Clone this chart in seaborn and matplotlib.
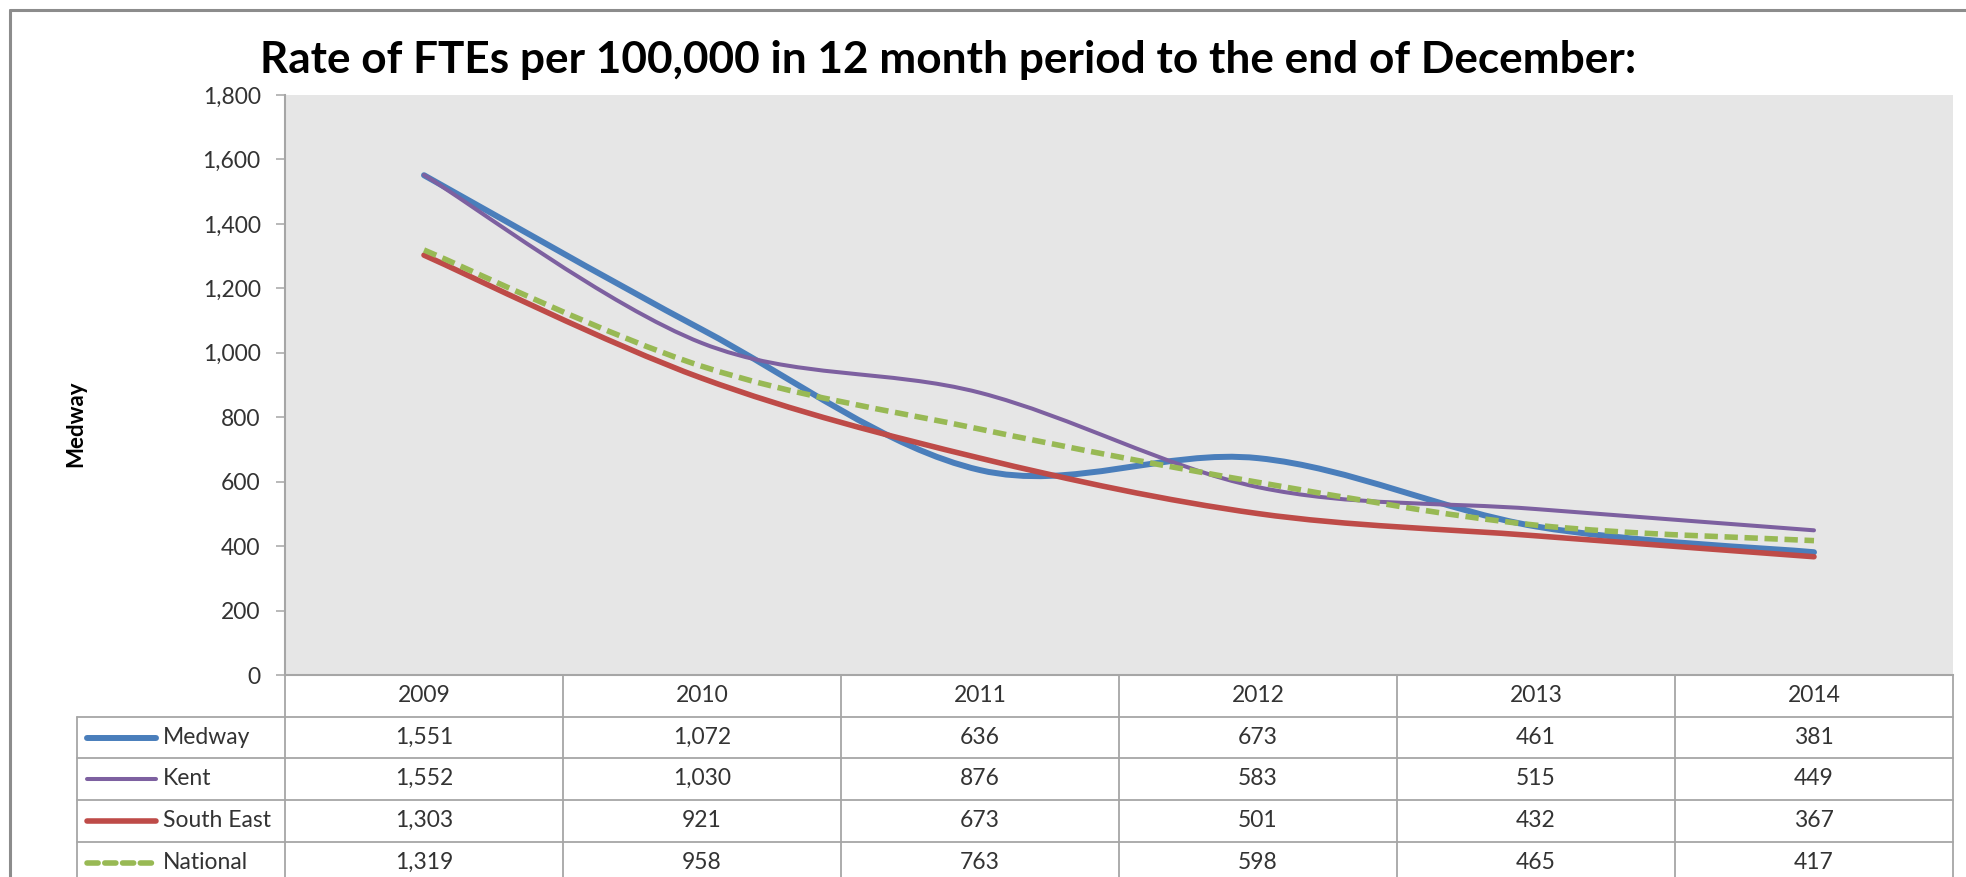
import numpy as np
import pandas as pd
import matplotlib
matplotlib.use("Agg")
import matplotlib.pyplot as plt
import seaborn as sns
from matplotlib.path import Path
from matplotlib.patches import PathPatch
from matplotlib.lines import Line2D

# ---------------- data ----------------
years = ["2009", "2010", "2011", "2012", "2013", "2014"]
series_names = ["Medway", "Kent", "South East", "National"]
medway = [1551, 1072, 636, 673, 461, 381]
kent = [1552, 1030, 876, 583, 515, 449]
south_east = [1303, 921, 673, 501, 432, 367]
national = [1319, 958, 763, 598, 465, 417]
y_ticks = [0, 200, 400, 600, 800, 1000, 1200, 1400, 1600, 1800]
title = "Rate of FTEs per 100,000 in 12 month period to the end of December:"
y_label = "Medway"

series_values = [medway, kent, south_east, national]

# ---------------- style ----------------
colors = {"Medway": "#4a7ebb", "Kent": "#7d60a0",
          "South East": "#be4b48", "National": "#98b954"}
widths = {"Medway": 4.3, "Kent": 2.9, "South East": 4.0, "National": 4.0}
dashes = {"Medway": None, "Kent": None, "South East": None, "National": (2.4, 1.2)}
grid_col = "#a6a6a6"

sns.set_theme(style="white")
plt.rcParams["font.family"] = ["Lato", "DejaVu Sans"]

W, H = 1966, 877
fig = plt.figure(figsize=(W / 100, H / 100), dpi=100)
fig.patch.set_facecolor("white")


def fx(px):
    return px / W


def fy(py):
    return 1 - py / H


L, R, T, B = 285, 1953, 95, 675
ax = fig.add_axes([fx(L), fy(B), fx(R - L), (B - T) / H])
ax.set_facecolor("#e6e6e6")

df = pd.DataFrame({
    "pos": np.tile(np.arange(len(years)), len(series_names)),
    "value": np.concatenate(series_values),
    "series": np.repeat(series_names, len(years)),
})
sns.lineplot(data=df, x="pos", y="value", hue="series", hue_order=series_names,
             palette=colors, estimator=None, sort=False, legend=False, ax=ax)


def smooth_path(xy):
    # Excel-style smoothed line: cubic Bezier segments through the data points
    n = len(xy)
    verts = [tuple(xy[0])]
    codes = [Path.MOVETO]
    for i in range(n - 1):
        p0 = xy[i - 1] if i > 0 else xy[i]
        p1 = xy[i]
        p2 = xy[i + 1]
        p3 = xy[i + 2] if i + 2 < n else xy[i + 1]
        c1 = p1 + (p2 - p0) / 6.0
        c2 = p2 - (p3 - p1) / 6.0
        verts += [tuple(c1), tuple(c2), tuple(p2)]
        codes += [Path.CURVE4] * 3
    return Path(verts, codes)


for line, name in zip(ax.lines, series_names):
    xy = np.asarray(line.get_xydata(), dtype=float)
    patch = PathPatch(smooth_path(xy), facecolor="none", edgecolor=colors[name],
                      linewidth=widths[name], capstyle="round", joinstyle="round",
                      zorder=3)
    if dashes[name] is not None:
        patch.set_linestyle((0, dashes[name]))
        patch.set_capstyle("butt")
    ax.add_patch(patch)
    line.set_visible(False)

ax.set_xlim(-0.5, len(years) - 0.5)
ax.set_ylim(0, 1800)
ax.set_yticks(y_ticks)
ax.set_yticklabels([f"{v:,}" for v in y_ticks])
ax.set_xticks([])
ax.set_xlabel("")
ax.set_ylabel("")
for s in ["top", "right"]:
    ax.spines[s].set_visible(False)
for s in ["left", "bottom"]:
    ax.spines[s].set_color(grid_col)
    ax.spines[s].set_linewidth(1.5)
ax.tick_params(axis="y", left=True, length=6.5, width=1.1, color=grid_col,
               pad=11, labelsize=16.5, labelcolor="#333333")

# ---------------- title & y label ----------------
t = fig.text(fx(948), fy(73), title, ha="center", va="baseline",
             fontsize=30, fontweight="bold", color="black")
fig.canvas.draw()
bb = t.get_window_extent()
t.set_fontsize(30 * 1376 / bb.width)

fig.text(fx(76), fy(424), y_label, rotation=90, ha="center", va="center",
         fontsize=16, fontweight="bold", color="black")

# ---------------- outer frame ----------------
frame_col = "#8c8c8c"
fig.add_artist(Line2D([fx(10), fx(10)], [fy(10), 0], color=frame_col, lw=2.2))
fig.add_artist(Line2D([fx(10), 1], [fy(10), fy(10)], color=frame_col, lw=2.2))

# ---------------- data table ----------------
col_edges = np.linspace(L, R, len(years) + 1)
col_centers = (col_edges[:-1] + col_edges[1:]) / 2
row_lines = [717, 758, 800, 842, 884]
tab_left = 77
lw_t = 1.3

# header verticals
for x in col_edges:
    fig.add_artist(Line2D([fx(x), fx(x)], [fy(B), 0], color=grid_col, lw=lw_t))
fig.add_artist(Line2D([fx(tab_left), fx(tab_left)], [fy(717), 0], color=grid_col, lw=lw_t))
for y in row_lines[:-1]:
    fig.add_artist(Line2D([fx(tab_left), fx(R)], [fy(y), fy(y)], color=grid_col, lw=lw_t))

txt_kw = dict(fontsize=16.5, color="#333333", va="center")
for c, yr in zip(col_centers, years):
    fig.text(fx(c), fy(696), yr, ha="center", **txt_kw)

row_tops = [717, 758, 800, 842]
for r, (name, vals) in enumerate(zip(series_names, series_values)):
    yc = row_tops[r] + 20.5
    for c, v in zip(col_centers, vals):
        fig.text(fx(c), fy(yc), f"{v:,}", ha="center", **txt_kw)
    ls = "-" if dashes[name] is None else (0, (2.0, 1.2))
    fig.add_artist(Line2D([fx(87), fx(156)], [fy(yc), fy(yc)], color=colors[name],
                          lw=widths[name], solid_capstyle="round",
                          dash_capstyle="round", linestyle=ls))
    fig.text(fx(163), fy(yc), name, ha="left", **txt_kw)

fig.savefig("out.png", dpi=100, facecolor="white")
